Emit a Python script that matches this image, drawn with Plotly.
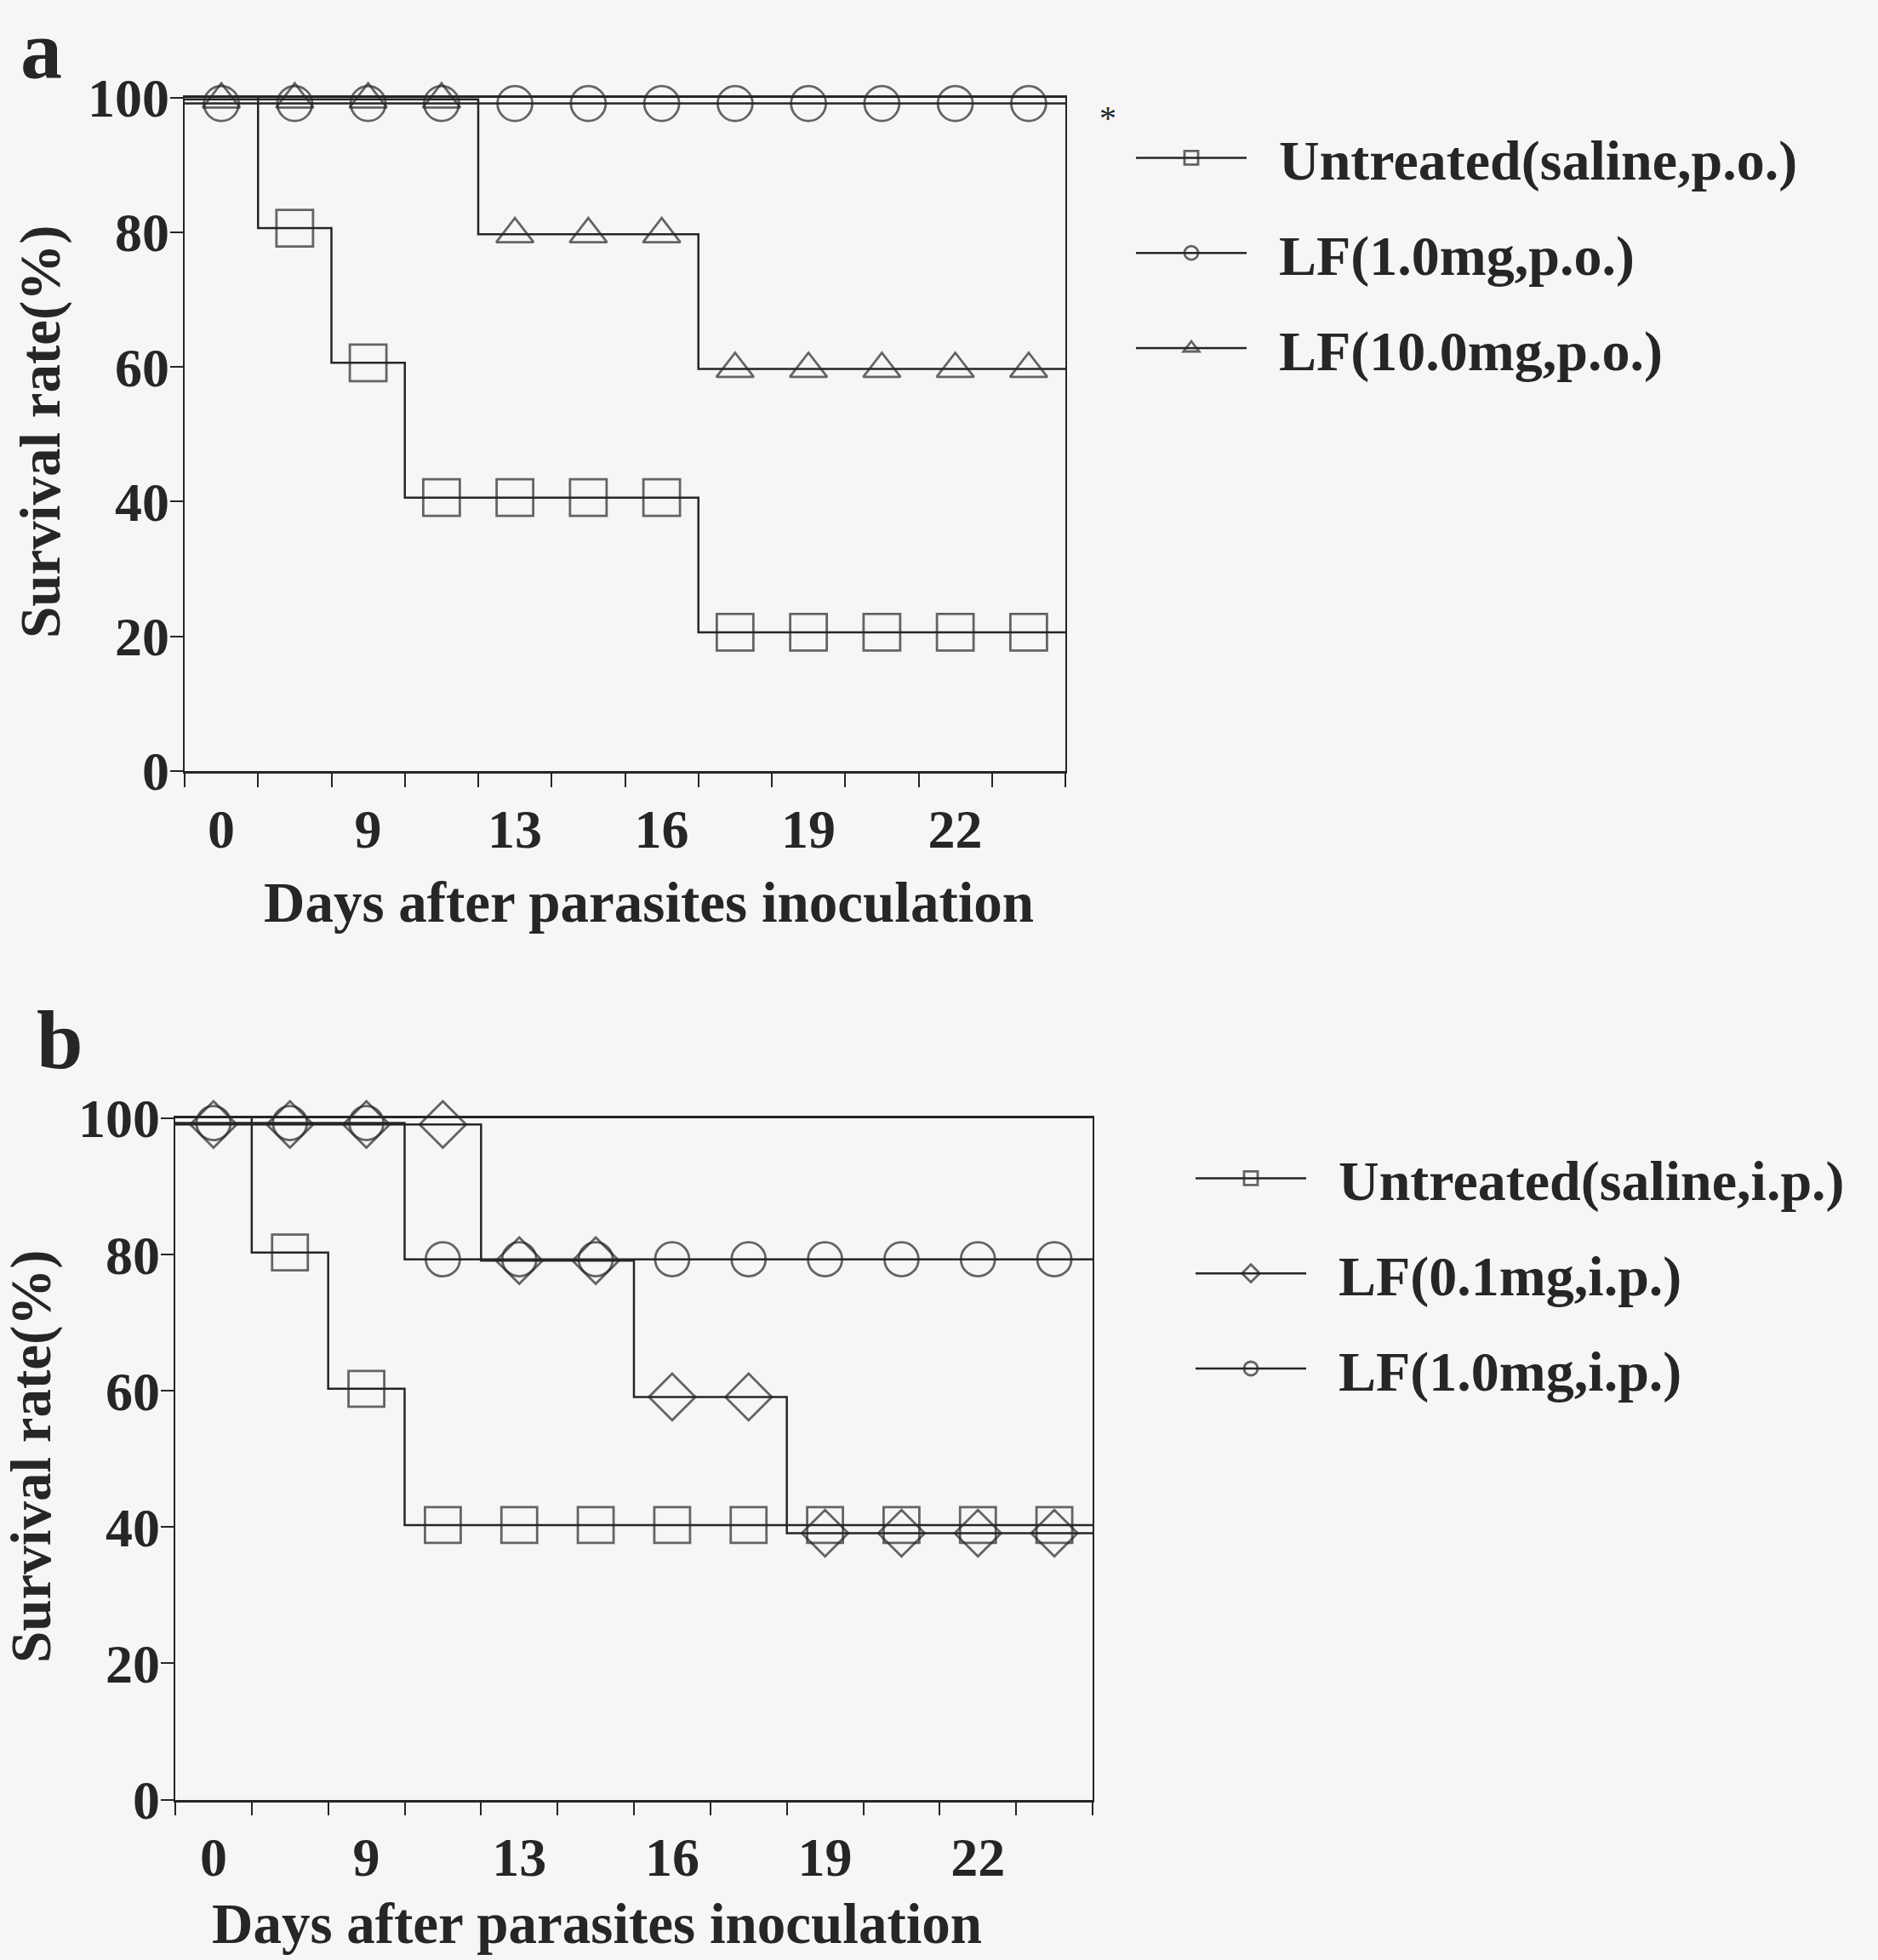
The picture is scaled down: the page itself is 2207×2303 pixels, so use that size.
import plotly.graph_objects as go

# ---------------- data ----------------
timepoints = [0, 1, 2, 3, 4, 5, 6, 7, 8, 9, 10, 11]          # observation index
label_idx = [0, 2, 4, 6, 8, 10]
day_labels = ["0", "9", "13", "16", "19", "22"]
y_ticks = [0, 20, 40, 60, 80, 100]

# panel a (oral)
a_names = ["Untreated(saline,p.o.)", "LF(1.0mg,p.o.)", "LF(10.0mg,p.o.)"]
a_untreated = [100, 80, 60, 40, 40, 40, 40, 20, 20, 20, 20, 20]
a_lf_1 = [100, 100, 100, 100, 100, 100, 100, 100, 100, 100, 100, 100]
a_lf_10 = [100, 100, 100, 100, 80, 80, 80, 60, 60, 60, 60, 60]

# panel b (intraperitoneal)
b_names = ["Untreated(saline,i.p.)", "LF(0.1mg,i.p.)", "LF(1.0mg,i.p.)"]
b_untreated = [100, 80, 60, 40, 40, 40, 40, 40, 40, 40, 40, 40]
b_lf_01 = [100, 100, 100, 100, 80, 80, 60, 60, 40, 40, 40, 40]
b_lf_1 = [100, 100, 100, 80, 80, 80, 80, 80, 80, 80, 80, 80]

# ---------------- style ----------------
INK = "#262626"
BG = "#f6f5f7"
FONT = "Liberation Serif"
W, H = 2207, 2303
GAP = "\u00a0\u00a0"   # spacing between legend symbol and legend text


def survival_trace(vals, name, symbol, size, shift, xa, ya, legend):
    xs = [timepoints[0] - 0.5] + timepoints + [timepoints[-1] + 0.5]
    ys = [v + shift for v in [vals[0]] + vals + [vals[-1]]]
    sizes = [0] + [size] * len(vals) + [0]
    return go.Scatter(
        x=xs, y=ys, name=GAP + name, mode="lines+markers",
        xaxis=xa, yaxis=ya, legend=legend, legendgroup=name,
        line=dict(shape="hvh", color=INK, width=2.5),
        marker=dict(symbol=symbol, size=sizes, color=INK,
                    line=dict(color=INK, width=2.8)),
        cliponaxis=False, hoverinfo="skip",
    )


fig = go.Figure()
fig.add_trace(survival_trace(a_untreated, a_names[0], "square-open", 43, 0.6, "x", "y", "legend"))
fig.add_trace(survival_trace(a_lf_1, a_names[1], "circle-open", 41, -0.9, "x", "y", "legend"))
fig.add_trace(survival_trace(a_lf_10, a_names[2], "triangle-up-open", 38, -0.3, "x", "y", "legend"))

fig.add_trace(survival_trace(b_untreated, b_names[0], "square-open", 42, 0.3, "x2", "y2", "legend2"))
fig.add_trace(survival_trace(b_lf_01, b_names[1], "diamond-open", 42, -0.9, "x2", "y2", "legend2"))
fig.add_trace(survival_trace(b_lf_1, b_names[2], "circle-open", 40, -0.7, "x2", "y2", "legend2"))

tickfont = dict(family=FONT, size=64, color=INK, weight="bold")
minor_vals = [t - 0.5 for t in timepoints] + [timepoints[-1] + 0.5]


def xaxis(domain, anchor):
    return dict(
        domain=domain, anchor=anchor, range=[-0.5, 11.5],
        tickmode="array", tickvals=label_idx, ticktext=day_labels, ticks="",
        ticklabelstandoff=10,
        minor=dict(tickmode="array", tickvals=minor_vals, ticks="outside",
                   ticklen=16, tickwidth=2.4, tickcolor=INK, showgrid=False),
        showline=True, mirror=True, linecolor=INK, linewidth=2.8,
        showgrid=False, zeroline=False, tickfont=tickfont, automargin=False,
        fixedrange=True,
    )


def yaxis(domain, anchor):
    return dict(
        domain=domain, anchor=anchor, range=[0, 100],
        tickmode="array", tickvals=y_ticks, ticks="outside", ticklen=15,
        tickwidth=2.4, tickcolor=INK, ticklabelstandoff=-12,
        showline=True, mirror=True, linecolor=INK, linewidth=2.4,
        showgrid=False, zeroline=False, tickfont=tickfont, automargin=False,
        fixedrange=True,
    )


legend_common = dict(
    xanchor="left", yanchor="top", bgcolor="rgba(0,0,0,0)",
    font=dict(family=FONT, size=66, color=INK, weight="bold"),
    itemwidth=130, traceorder="grouped", tracegroupgap=23,
)

title_font = dict(family=FONT, size=67, color=INK, weight="bold")
label_font = dict(family=FONT, size=98, color=INK, weight="bold")


def note(text, x, y, font, angle=0):
    return dict(text=text, x=x / W, y=1 - y / H, xref="paper", yref="paper",
                xanchor="center", yanchor="middle", textangle=angle,
                showarrow=False, font=font)


fig.update_layout(
    width=W, height=H, margin=dict(l=0, r=0, t=0, b=0),
    paper_bgcolor=BG, plot_bgcolor=BG, showlegend=True,
    xaxis=xaxis([217 / W, 1252 / W], "y"),
    yaxis=yaxis([1 - 906 / H, 1 - 114.5 / H], "x"),
    xaxis2=xaxis([206 / W, 1284 / W], "y2"),
    yaxis2=yaxis([1 - 2114.5 / H, 1 - 1314 / H], "x2"),
    legend=dict(x=1330 / W, y=1 - 136 / H, **legend_common),
    legend2=dict(x=1400 / W, y=1 - 1335 / H, **legend_common),
    annotations=[
        note("a", 48, 58, label_font),
        note("b", 70, 1222, label_font),
        note("*", 1302, 138, dict(family=FONT, size=40, color=INK)),
        note("Days after parasites inoculation", 762, 1060, title_font),
        note("Survival rate(%)", 48, 507, title_font, -90),
        note("Days after parasites inoculation", 702, 2260, title_font),
        note("Survival rate(%)", 37, 1711, title_font, -90),
    ],
)

fig.write_html("out.html")
